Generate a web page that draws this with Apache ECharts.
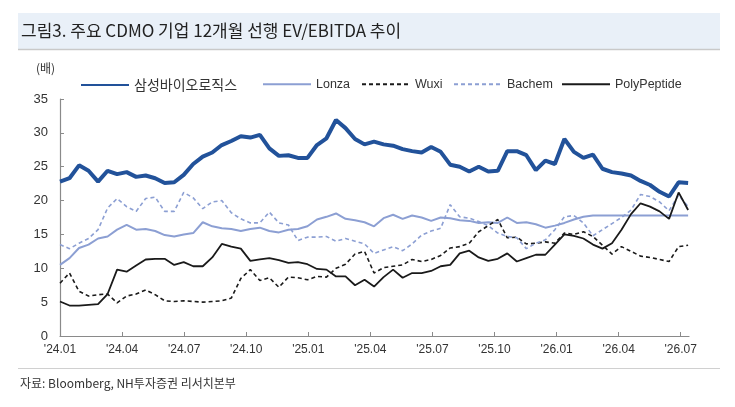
<!DOCTYPE html>
<html>
<head>
<meta charset="utf-8">
<script src="https://cdn.jsdelivr.net/npm/echarts@6/dist/echarts.min.js"></script>
<style>
html,body{margin:0;padding:0;background:#fff;}
#c{width:735px;height:407px;}
</style>
</head>
<body>
<div id="c"></div>
<script>
// Data: one value every two weeks, starting 2024-01-01
const DAYS_STEP = 14;
const seriesNames = ['삼성바이오로직스', 'Lonza', 'Wuxi', 'Bachem', 'PolyPeptide'];
const samsung = [22.8,23.3,25.2,24.4,22.8,24.4,23.9,24.2,23.5,23.7,23.3,22.6,22.7,23.8,
  25.4,26.5,27.1,28.2,28.8,29.5,29.3,29.7,27.7,26.6,26.7,26.3,26.3,28.2,
  29.2,31.9,30.7,29.1,28.3,28.7,28.3,28.1,27.6,27.3,27.1,27.9,27.2,25.3,
  25.0,24.3,25.0,24.3,24.4,27.3,27.3,26.7,24.5,25.9,25.4,29.1,27.2,
  26.3,26.8,24.7,24.2,24.0,23.7,22.9,22.3,21.3,20.6,22.7,22.6];
const lonza = [10.5,11.5,13.0,13.5,14.4,14.7,15.7,16.4,15.7,15.8,15.5,14.9,14.7,15.0,
  15.2,16.8,16.2,15.9,15.8,15.5,15.8,16.0,15.5,15.3,15.7,15.8,16.2,17.2,
  17.6,18.1,17.3,17.1,16.8,16.2,17.4,17.9,17.3,17.8,17.5,17.0,17.5,17.4,
  17.1,17.0,16.7,16.8,16.7,17.5,16.7,16.8,16.5,16.0,16.3,16.7,17.2,
  17.6,17.8,17.8,17.8,17.8,17.8,17.8,17.8,17.8,17.8,17.8,17.8];
const wuxi = [7.8,9.3,6.6,5.9,6.1,6.2,4.9,5.9,6.2,6.8,6.1,5.2,5.1,5.2,
  5.1,5.0,5.1,5.2,5.6,8.5,9.8,8.2,8.6,7.2,8.7,8.6,8.3,8.8,
  8.7,10.0,10.6,12.1,12.5,9.3,10.1,10.3,10.5,11.3,11.0,11.3,11.9,13.0,
  13.2,13.7,15.4,16.3,17.2,14.5,14.6,13.6,13.7,13.9,13.7,15.2,15.0,
  15.4,14.7,13.4,12.1,13.2,12.5,11.8,11.6,11.3,11.0,13.2,13.4];
const bachem = [13.5,12.9,13.7,14.4,15.7,18.9,20.3,19.1,18.4,20.3,20.5,18.4,18.4,21.2,
  20.4,18.8,19.8,20.0,18.2,17.3,16.7,16.7,18.3,16.7,16.4,14.1,14.6,14.6,
  14.7,14.0,14.4,14.0,13.6,12.2,12.7,13.2,12.6,13.6,14.9,15.5,15.9,19.4,
  17.6,17.4,16.9,16.3,15.2,14.7,14.5,12.9,13.7,14.2,15.7,17.6,17.8,
  16.7,14.8,15.7,16.6,17.5,18.6,20.9,20.6,19.8,18.5,20.8,19.1];
const poly = [5.1,4.5,4.5,4.6,4.7,6.2,9.8,9.5,10.4,11.3,11.4,11.4,10.5,10.9,
  10.3,10.3,11.6,13.6,13.2,12.9,11.1,11.3,11.5,11.2,10.8,10.9,10.6,9.9,
  9.8,8.8,8.8,7.5,8.3,7.3,8.7,9.8,8.6,9.3,9.3,9.6,10.3,10.5,
  12.2,12.6,11.6,11.1,11.4,12.2,11.0,11.5,12.0,12.0,13.5,15.0,14.8,
  14.4,13.5,12.9,13.7,15.7,18.0,19.6,19.1,18.4,17.3,21.2,18.6];
const tickMonths = [0,3,6,9,12,15,18,21,24,27,30]; // months since 2024-01
const yTicks = [0,5,10,15,20,25,30,35];

const DAYS_PER_MONTH = 30.4375;
function toPairs(arr){ return arr.map((v,i)=>[i*DAYS_STEP/DAYS_PER_MONTH, v]); }
function monthLabel(m){
  const y = 24 + Math.floor(m/12);
  const mo = (m % 12) + 1;
  return "'" + y + '.' + (mo < 10 ? '0' + mo : mo);
}

const latin = "'Liberation Sans','Noto Sans CJK KR',sans-serif";
const kr = "'Noto Sans CJK KR',sans-serif";
const styles = [
  {color:'#22529A', width:4, type:'solid'},
  {color:'#8C9FD3', width:2, type:'solid'},
  {color:'#1a1a1a', width:1.6, type:[4,3]},
  {color:'#8C9FD3', width:1.6, type:[4,3]},
  {color:'#1a1a1a', width:1.8, type:'solid'}
];
const datas = [samsung, lonza, wuxi, bachem, poly];
const legendLeft = [75, 257, 356, 448, 556];

const chart = echarts.init(document.getElementById('c'), null, {renderer:'canvas'});
const option = {
  animation:false,
  backgroundColor:'#fff',
  textStyle:{fontFamily:latin},
  graphic:[
    {type:'rect', shape:{x:18, y:13, width:702, height:36}, style:{fill:'#E9F0F8'}, silent:true},
    {type:'line', shape:{x1:18, y1:49.5, x2:720, y2:49.5}, style:{stroke:'#C9C9C9', lineWidth:1.5}, silent:true},
    {type:'text', left:21, top:22, style:{text:'그림3. 주요 CDMO 기업 12개월 선행 EV/EBITDA 추이', fontSize:17, fontFamily:kr, fill:'#222'}},
    {type:'text', left:36, top:62, style:{text:'(배)', fontSize:12, fontFamily:kr, fill:'#333'}},
    {type:'line', shape:{x1:18, y1:368.5, x2:720, y2:368.5}, style:{stroke:'#D0D0D0', lineWidth:1}, silent:true},
    {type:'text', left:20, top:377, style:{text:'자료: Bloomberg, NH투자증권 리서치본부', fontSize:12, fontFamily:kr, fill:'#333'}}
  ],
  legend: seriesNames.map((n,i)=>({
    data:[n], left:legendLeft[i], top:73, itemWidth:48, itemHeight:14, itemGap:6,
    itemStyle:{opacity:0},
    textStyle:{fontSize:i===0?14:12.5, color:'#333', fontFamily: i===0 ? kr : latin}
  })),
  grid:{left:60, right:46, top:99, bottom:71, containLabel:false},
  xAxis:{
    type:'value', min:0, max:30.4,
    axisLine:{show:true, lineStyle:{color:'#8a8a8a', width:1.2}},
    axisTick:{show:true, inside:true, length:4, lineStyle:{color:'#8a8a8a'}, customValues:tickMonths},
    axisLabel:{show:true, fontSize:12, color:'#333', margin:8, fontFamily:latin, customValues:tickMonths,
      formatter:(v)=>monthLabel(Math.round(v))},
    splitLine:{show:false}
  },
  yAxis:{
    type:'value', min:0, max:35, interval:5,
    axisLine:{show:true, lineStyle:{color:'#8a8a8a', width:1.2}},
    axisTick:{show:true, inside:true, length:4, lineStyle:{color:'#8a8a8a'}},
    axisLabel:{fontSize:13, color:'#333', margin:12, fontFamily:latin},
    splitLine:{show:false}
  },
  series: seriesNames.map((n,i)=>({
    name:n, type:'line', data:toPairs(datas[i]), symbol:'none', smooth:false,
    lineStyle:{color:styles[i].color, width:styles[i].width, type:styles[i].type},
    itemStyle:{color:styles[i].color},
    z: i===0 ? 5 : 3
  }))
};
chart.setOption(option);
</script>
</body>
</html>
